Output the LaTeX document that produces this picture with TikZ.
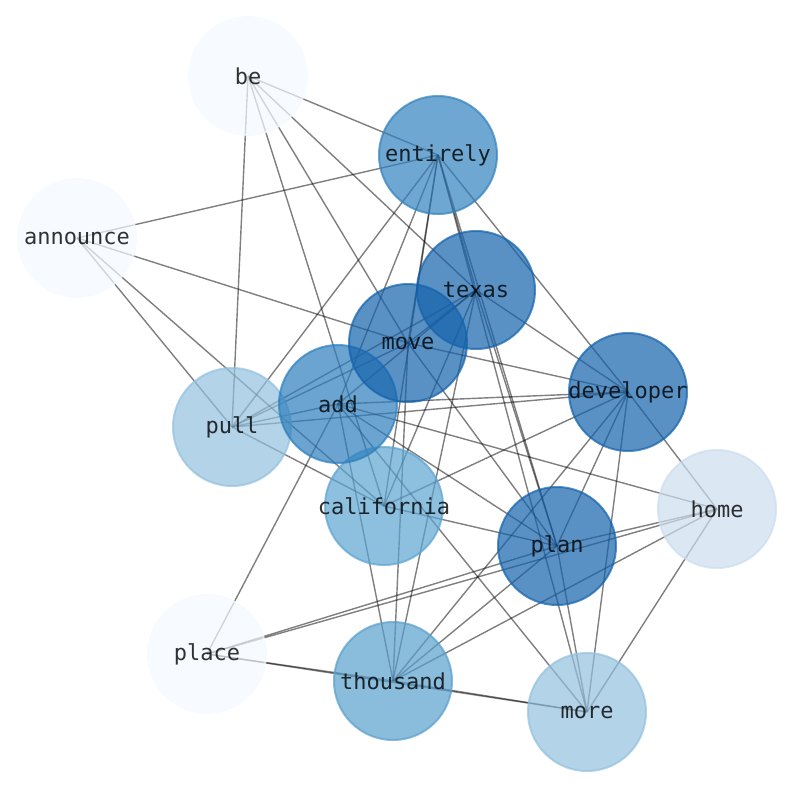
\documentclass[tikz,border=0pt]{standalone}
\usepackage{fontspec}
\setmonofont{DejaVu Sans Mono}
\pgfdeclarelayer{bg}
\pgfdeclarelayer{fg}
\pgfsetlayers{bg,main,fg}
\definecolor{cDark}{RGB}{20,98,171}
\definecolor{cMidA}{RGB}{49,129,189}
\definecolor{cMidB}{RGB}{44,126,189}
\definecolor{cCal}{RGB}{92,164,209}
\definecolor{cThou}{RGB}{89,159,205}
\definecolor{cLight}{RGB}{147,192,222}
\definecolor{cHome}{RGB}{204,221,238}
\definecolor{cPale}{RGB}{244,250,255}
\tikzset{
 vertex/.style={circle, minimum size=118pt, inner sep=0pt, line width=2pt, fill opacity=0.7, draw opacity=0.7},
 lbl/.style={font=\ttfamily\fontsize{22}{22}\selectfont, text=black, text opacity=0.8, inner sep=0pt},
 edgeline/.style={draw=black, draw opacity=0.5, line width=1.4pt},
}
\begin{document}
\begin{tikzpicture}[x=1pt,y=-1pt]
\useasboundingbox (0,0) rectangle (794,790);
\node[vertex, fill=cPale, draw=cPale] (be) at (248,76) {};
\node[vertex, fill=cPale, draw=cPale] (announce) at (77,238) {};
\node[vertex, fill=cPale, draw=cPale] (place) at (207,654) {};
\node[vertex, fill=cHome, draw=cHome] (home) at (717,509) {};
\node[vertex, fill=cLight, draw=cLight] (pull) at (232,427) {};
\node[vertex, fill=cLight, draw=cLight] (more) at (587,712) {};
\node[vertex, fill=cThou, draw=cThou] (thousand) at (393,681) {};
\node[vertex, fill=cCal, draw=cCal] (california) at (384,506) {};
\node[vertex, fill=cMidA, draw=cMidA] (entirely) at (438,155) {};
\node[vertex, fill=cMidB, draw=cMidB] (add) at (338,404) {};
\node[vertex, fill=cDark, draw=cDark] (texas) at (476,290) {};
\node[vertex, fill=cDark, draw=cDark] (move) at (408,343) {};
\node[vertex, fill=cDark, draw=cDark] (developer) at (628,392) {};
\node[vertex, fill=cDark, draw=cDark] (plan) at (557,546) {};
\begin{pgfonlayer}{fg}
\foreach \n in {be,announce,place,home,pull,more,thousand,california,entirely,add,texas,move,developer,plan}
  \node[lbl] (\n-t) at (\n) {\n};
\end{pgfonlayer}
\begin{pgfonlayer}{bg}
\foreach \a/\b in {be/entirely, be/pull, be/california, be/move, be/texas,
  entirely/announce, entirely/pull, entirely/add, entirely/developer, entirely/texas,
  entirely/move, entirely/california, entirely/plan, entirely/more,
  announce/move, announce/pull, announce/california,
  pull/texas, pull/move, pull/add, pull/developer, pull/california,
  texas/developer, texas/thousand, texas/plan, texas/california, texas/add, texas/move,
  move/developer, move/plan, move/thousand,
  add/developer, add/home, add/more, add/thousand, add/plan, add/place,
  california/developer, california/plan,
  developer/home, developer/plan, developer/thousand, developer/more,
  home/plan, home/place, home/thousand, home/more,
  plan/place, plan/thousand, plan/more,
  place/thousand, place/more, thousand/more}
  \draw[edgeline] (\a.center) -- (\b.center);
\end{pgfonlayer}
\end{tikzpicture}
\end{document}
